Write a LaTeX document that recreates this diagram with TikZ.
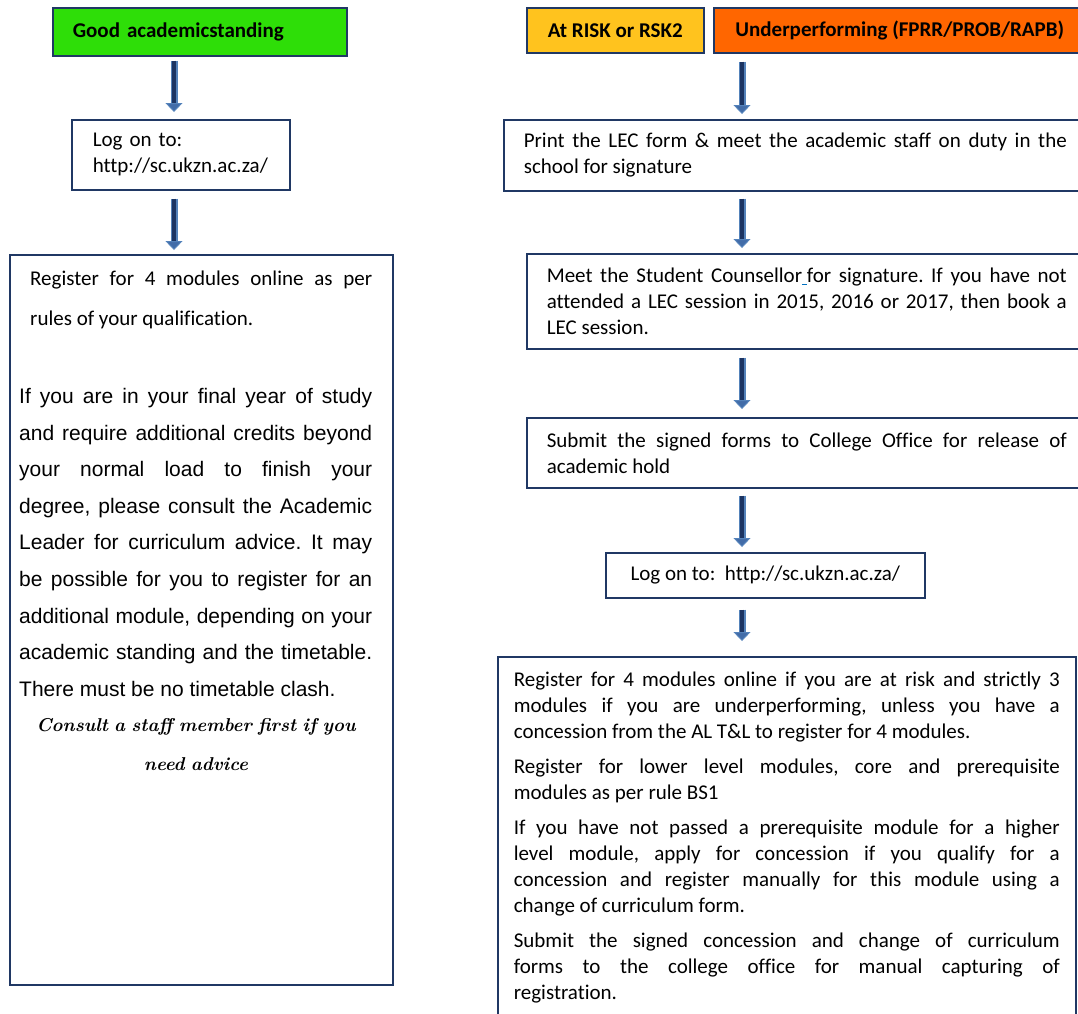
\documentclass[tikz,border=0pt]{standalone}
\usepackage{fontspec}
\usetikzlibrary{arrows.meta}
\newfontfamily\calibri[Ligatures=NoCommon]{Carlito}
\newfontfamily\arial{Liberation Sans}
\definecolor{boxline}{RGB}{32,56,100}
\definecolor{goodgreen}{RGB}{46,222,8}
\definecolor{riskyellow}{RGB}{255,195,30}
\definecolor{underorange}{RGB}{255,102,0}
\definecolor{arrowcore}{RGB}{28,52,98}
\definecolor{arrowedge}{RGB}{84,130,186}
\definecolor{arrowhead}{RGB}{66,108,168}
\definecolor{linkblue}{RGB}{0,112,192}
\tolerance=10000 \hbadness=10000 \frenchspacing
\begin{document}
\begin{tikzpicture}[x=1pt,y=-1pt,
  box/.style={draw=boxline, line width=1.6pt, fill=white, anchor=north west, inner ysep=0pt, font=\calibri\fontsize{21}{26}\selectfont},
  textbox/.style={box, align=justify, inner xsep=20pt},
  headbox/.style={box, font=\calibri\bfseries\fontsize{21}{26}\selectfont, inner xsep=0pt},
  plain/.style={anchor=north west, inner sep=0pt},
  arrowline/.style={draw=arrowedge, line width=7pt, -{Triangle[length=9pt,width=17pt,line width=1pt,fill=arrowhead]}}]
\useasboundingbox (0,0) rectangle (1078,1013);
\clip (0,0) rectangle (1078,1013);
% left column
\node[headbox, fill=goodgreen, text width=254pt, inner xsep=20pt, align=left, minimum height=48pt] (good) at (52,7) {Good academicstanding};
\node[box, text width=176pt, inner xsep=21pt, align=left, minimum height=70pt] (logl) at (71,119) {Log on to:\\ http://sc.ukzn.ac.za/};
\node[box, minimum width=383pt, minimum height=730pt] (regl) at (9,254) {};
\node[plain, text width=342pt, align=justify, font=\calibri\fontsize{21}{40}\selectfont] (reglrules) at (30,271)
  {Register for 4 modules online as per\linebreak rules of your qualification.};
\node[plain, text width=353pt, align=justify, font=\arial\fontsize{21}{36.6}\selectfont] (reglfinal) at (19,388)
  {If you are in your final year of study\linebreak and require additional credits beyond\linebreak your normal load to finish your\linebreak degree, please consult the Academic\linebreak Leader for curriculum advice. It may\linebreak be possible for you to register for an\linebreak additional module, depending on your\linebreak academic standing and the timetable.\linebreak There must be no timetable clash.};
\node[plain, anchor=north, text width=353pt, align=center, font=\bfseries\itshape\fontsize{18.6}{39}\selectfont] (regladvice) at (196,718)
  {Consult a staff member first if you\\ need advice};
% right column
\node[headbox, fill=riskyellow, minimum width=177pt, minimum height=45pt] (risk) at (526,7) {At RISK or RSK2};
\node[headbox, fill=underorange, minimum width=372pt, minimum height=45pt] (under) at (713,7) {Underperforming (FPRR/PROB/RAPB)};
\node[textbox, text width=543pt, minimum height=71pt] (print) at (503,119)
  {Print the LEC form \& meet the academic staff on duty in the\linebreak school for signature};
\node[textbox, text width=520pt, minimum height=95pt] (meet) at (526,253)
  {Meet the Student Counsellor{\color{linkblue}\underline{\ }}for signature. If you have not\linebreak attended a LEC session in 2015, 2016 or 2017, then book a\linebreak LEC session.};
\node[textbox, text width=520pt, minimum height=70pt] (submit) at (526,417)
  {Submit the signed forms to College Office for release of\linebreak academic hold};
\node[box, minimum width=319pt, minimum height=45pt] (logr) at (605,552) {Log on to:\ \ http://sc.ukzn.ac.za/};
\node[box, inner xsep=16pt, inner ysep=15pt] (regr) at (497,656)
  {\begin{minipage}[t][360pt][t]{546pt}\setlength{\parskip}{9pt}%
   Register for 4 modules online if you are at risk and strictly 3\linebreak modules if you are underperforming, unless you have a\linebreak concession from the AL T\&L to register for 4 modules.\par
   Register for lower level modules, core and prerequisite\linebreak modules as per rule BS1\par
   If you have not passed a prerequisite module for a higher\linebreak level module, apply for concession if you qualify for a\linebreak concession and register manually for this module using a\linebreak change of curriculum form.\par
   Submit the signed concession and change of curriculum\linebreak forms to the college office for manual capturing of\linebreak registration.
   \end{minipage}};
% arrows
\coordinate (lcol) at (174,0);
\coordinate (rcol) at (742,0);
\foreach \a/\b/\s/\e in {good/logl/4/7, logl/regl/8/4} { % left arrows
  \pgfmathsetmacro\ee{\e+9}
  \draw[arrowline, shorten <=\s pt, shorten >=\e pt, postaction={draw=arrowcore, line width=3.5pt, -, shorten >=\ee pt}] (\a.south -| lcol) -- (\b.north -| lcol);
}
\foreach \a/\b/\s/\e in {under/print/8/5, print/meet/7/5, meet/submit/8/8, submit/logr/7/5, logr/regr/11/15} { % right arrows
  \pgfmathsetmacro\ee{\e+9}
  \draw[arrowline, shorten <=\s pt, shorten >=\e pt, postaction={draw=arrowcore, line width=3.5pt, -, shorten >=\ee pt}] (\a.south -| rcol) -- (\b.north -| rcol);
}
\end{tikzpicture}
\end{document}
